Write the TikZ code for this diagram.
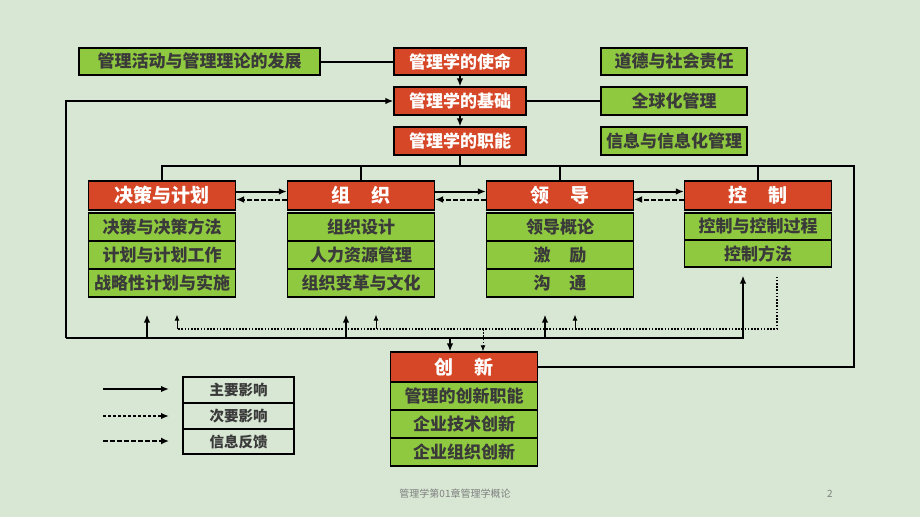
\documentclass[tikz,border=0pt]{standalone}
\usepackage{fontspec}
\setmainfont{Noto Sans CJK SC}
\usetikzlibrary{arrows.meta}

\definecolor{bg}{RGB}{215,231,211}
\definecolor{boxred}{RGB}{213,71,38}
\definecolor{boxgreen}{RGB}{143,201,64}
\definecolor{txtgray}{RGB}{58,58,58}

\tikzset{
  redbox/.style={draw=black, line width=1.2pt, fill=boxred, text=white, inner sep=0pt,
    font=\bfseries\fontsize{17}{20}\selectfont, minimum width=132pt, minimum height=28pt},
  headbox/.style={redbox, font=\bfseries\fontsize{19}{22}\selectfont, minimum width=147pt, minimum height=29pt},
  greenbox/.style={draw=black, line width=1.2pt, fill=boxgreen, text=txtgray, inner sep=0pt,
    font=\bfseries\fontsize{17}{20}\selectfont, minimum width=147pt, minimum height=28pt},
  keybox/.style={draw=black, line width=1.1pt, text=txtgray, inner sep=0pt,
    font=\bfseries\fontsize{14.5}{17}\selectfont, minimum width=111pt, minimum height=26pt},
  link/.style={line width=2pt},
  main/.style={line width=2pt, -{Latex[length=8pt,width=6.5pt]}},
  minor/.style={line width=1pt, -{Latex[length=6pt,width=5pt]}},
  feedback/.style={line width=2pt, dash pattern=on 4.5pt off 2.5pt, -{Latex[length=8pt,width=7pt]}},
}
\newcommand{\gap}{\hspace{1.1em}}

\begin{document}
\begin{tikzpicture}[x=1pt, y=-1pt]
  \useasboundingbox (0,0) rectangle (920,517);
  \fill[bg] (0,0) rectangle (920,517);

  % top block
  \node[greenbox, minimum width=241pt, minimum height=27pt] (history) at (199.5,61.5) {管理活动与管理理论的发展};
  \node[redbox, minimum height=27pt] (mission) at (460,61.5) {管理学的使命};
  \node[redbox] (basis) at (460,101) {管理学的基础};
  \node[redbox] (functions) at (460,141) {管理学的职能};
  \node[greenbox, minimum width=146pt, minimum height=27pt] (ethics) at (674,61.5) {道德与社会责任};
  \node[greenbox, minimum width=146pt] (global) at (674,101) {全球化管理};
  \node[greenbox, minimum width=146pt] (info) at (674,141) {信息与信息化管理};

  % four functions
  \node[headbox] (plan) at (162,195.5) {决策与计划};
  \node[greenbox] (plan1) at (162,227) {决策与决策方法};
  \node[greenbox] (plan2) at (162,255) {计划与计划工作};
  \node[greenbox] (plan3) at (162,283) {战略性计划与实施};

  \node[headbox] (org) at (361,195.5) {组\gap 织};
  \node[greenbox] (org1) at (361,227) {组织设计};
  \node[greenbox] (org2) at (361,255) {人力资源管理};
  \node[greenbox] (org3) at (361,283) {组织变革与文化};

  \node[headbox] (lead) at (560,195.5) {领\gap 导};
  \node[greenbox] (lead1) at (560,227) {领导概论};
  \node[greenbox] (lead2) at (560,255) {激\gap 励};
  \node[greenbox] (lead3) at (560,283) {沟\gap 通};

  \node[headbox] (ctrl) at (758,195.5) {控\gap 制};
  \node[greenbox, minimum height=27pt] (ctrl1) at (758,226.5) {控制与控制过程};
  \node[greenbox, minimum height=27pt] (ctrl2) at (758,253.5) {控制方法};

  % innovation
  \node[headbox, minimum height=30pt] (innov) at (464,367) {创\gap 新};
  \node[greenbox] (innov1) at (464,396) {管理的创新职能};
  \node[greenbox] (innov2) at (464,424) {企业技术创新};
  \node[greenbox] (innov3) at (464,452) {企业组织创新};

  % legend
  \node[keybox] (key1) at (238.5,390) {主要影响};
  \node[keybox] (key2) at (238.5,416) {次要影响};
  \node[keybox, minimum height=25pt] (key3) at (238.5,441.5) {信息反馈};
  \coordinate (k1a) at (103,389); \coordinate (k1b) at (169,389);
  \coordinate (k2a) at (103,416); \coordinate (k2b) at (169,416);
  \coordinate (k3a) at (103,441); \coordinate (k3b) at (169,441);
  \draw[main] (k1a) -- (k1b);
  \draw[main, line width=1.6pt, dash pattern=on 3pt off 2pt] (k2a) -- (k2b);
  \draw[feedback, line width=2.6pt] (k3a) -- (k3b);

  % top links
  \draw[link] (history) -- (mission);
  \draw[link] (basis) -- (global);
  \draw[main, line width=1.4pt] (mission) -- (basis);
  \draw[main, line width=1.4pt] (basis) -- (functions);

  % bus from functions
  \coordinate (busR) at (854,166);
  \draw[link] (plan.north) |- (busR) |- (innov.east);
  \draw[link] (functions.south) -- (functions.south |- busR);
  \foreach \n in {org,lead,ctrl}
    \draw[link] (\n.north) -- (\n.north |- busR);

  % arrows between functions
  \foreach \a/\b in {plan/org, org/lead, lead/ctrl}{
    \draw[main] ([yshift=4pt]\a.east) -- ([yshift=4pt]\b.west);
    \draw[feedback] ([yshift=-4pt]\b.west) -- ([yshift=-4pt]\a.east);
  }

  % main influence loop
  \coordinate (mainL) at (66,338);
  \draw[main] (mainL) |- (basis.west);
  \draw[main, shorten >=8pt] (mainL) -| ([xshift=-15pt]ctrl2.south);
  \foreach \n in {plan3,org3,lead3}
    \draw[main] ([xshift=-15pt]\n.south |- mainL) -- ([xshift=-15pt,yshift=-17pt]\n.south);
  \draw[main] ([xshift=-14pt]innov.north |- mainL) -- ([xshift=-14pt]innov.north);

  % minor influence
  \coordinate (minL) at (177,329);
  \coordinate (minR) at ([xshift=19pt,yshift=-9pt]ctrl2.south);
  \draw[line width=1.6pt, dash pattern=on 1.6pt off 1.6pt] (minR) |- (minL);
  \foreach \n in {plan3,org3,lead3}
    \draw[minor] ([xshift=15pt]\n.south |- minL) -- ([xshift=15pt,yshift=-17pt]\n.south);
  \draw[minor, dash pattern=on 1.6pt off 1.6pt] ([xshift=19pt]innov.north |- minL) -- ([xshift=19pt]innov.north);

  % footer
  \node[text=gray, font=\fontsize{10}{12}\selectfont] (footer) at (455,494) {管理学第01章管理学概论};
  \node[text=gray, font=\fontsize{10}{12}\selectfont] (page) at (830,494) {2};
\end{tikzpicture}
\end{document}
